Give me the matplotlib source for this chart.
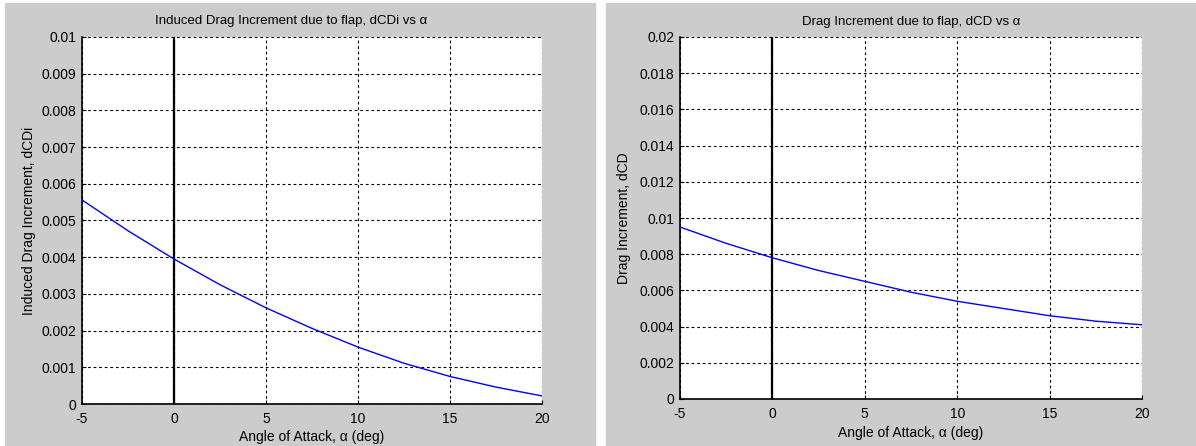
import numpy as np
import matplotlib.pyplot as plt
from matplotlib.patches import Rectangle

plt.rcParams['font.family'] = ['Liberation Sans', 'DejaVu Sans']
plt.rcParams['axes.unicode_minus'] = False

# angle of attack (deg)
alpha = [-5, -2.5, 0, 2.5, 5, 7.5, 10, 12.5, 15, 17.5, 20]
# induced drag increment due to flap
dCDi = [0.00556, 0.00472, 0.00395, 0.00325, 0.00262, 0.00206,
        0.00155, 0.00111, 0.00075, 0.00046, 0.00022]
# total drag increment due to flap
dCD = [0.0095, 0.0086, 0.0078, 0.0071, 0.0065, 0.0059,
       0.0054, 0.0050, 0.0046, 0.0043, 0.0041]

W, H = 1196, 446
fig = plt.figure(figsize=(W / 100, H / 100), dpi=100)
fig.patch.set_facecolor('white')

grey = '#cccccc'
for x0 in (5, 606):
    fig.patches.append(Rectangle((x0 / W, 0), 590 / W, 443 / H,
                                 transform=fig.transFigure, color=grey,
                                 zorder=-5))


def px_axes(left, top, right, bottom):
    ax = fig.add_axes([left / W, (H - bottom) / H,
                       (right - left) / W, (bottom - top) / H])
    ax.set_facecolor('white')
    ax.set_zorder(1)
    return ax


def style(ax, y, ymax, ystep, title, title_x, ylabel, lab_x):
    ax.plot(alpha, y, color='#0000ff', lw=1.0, zorder=3)
    ax.axvline(0, color='black', lw=1.6, zorder=2)
    ax.set_xlim(-5, 20)
    ax.set_ylim(0, ymax)
    ax.set_xticks([-5, 0, 5, 10, 15, 20])
    ticks = np.round(np.arange(0, ymax + ystep / 2, ystep), 4)
    ax.set_yticks(ticks)
    ax.set_yticklabels(['%g' % v for v in ticks])
    ax.grid(True, color='black', ls=(0, (2.5, 2.5)), lw=0.8)
    ax.set_axisbelow(True)
    for s in ('top', 'right'):
        ax.spines[s].set_visible(False)
    for s in ('left', 'bottom'):
        ax.spines[s].set_linewidth(1.2)
    ax.tick_params(direction='in', length=3, labelsize=10, colors='black')
    ax.tick_params(axis='x', pad=6)
    ax.tick_params(axis='y', pad=4)
    ax.set_title(title, fontsize=9.5, pad=9, x=title_x)
    ax.set_xlabel('Angle of Attack, \u03b1 (deg)', fontsize=10, labelpad=3)
    ax.set_ylabel(ylabel, fontsize=10)
    ax.yaxis.set_label_coords(lab_x, 0.5)


ax1 = px_axes(82, 37, 542, 404)
style(ax1, dCDi, 0.01, 0.001,
      'Induced Drag Increment due to flap, dCDi vs \u03b1', 0.455,
      'Induced Drag Increment, dCDi', -0.100)

ax2 = px_axes(680, 37, 1142, 399)
style(ax2, dCD, 0.02, 0.002,
      'Drag Increment due to flap, dCD vs \u03b1', 0.5,
      'Drag Increment, dCD', -0.106)

fig.savefig('out.png', dpi=100)
